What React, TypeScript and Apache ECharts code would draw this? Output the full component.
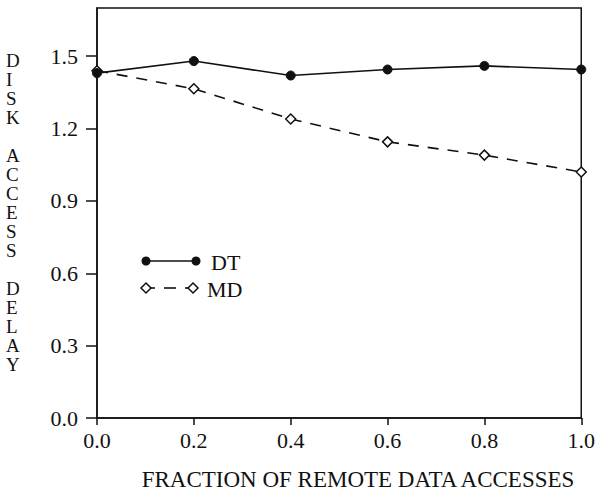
import React, { useEffect, useRef } from "react";
import * as echarts from "echarts";

const xValues = [0.0, 0.2, 0.4, 0.6, 0.8, 1.0];
const dtValues = [1.43, 1.48, 1.42, 1.445, 1.46, 1.445];
const mdValues = [1.44, 1.365, 1.24, 1.145, 1.09, 1.02];
const yTickValues = [0.0, 0.3, 0.6, 0.9, 1.2, 1.5];
const seriesNames = ["DT", "MD"];
const xAxisTitle = "FRACTION OF REMOTE DATA ACCESSES";
const yAxisTitle = "D\nI\nS\nK\n\nA\nC\nC\nE\nS\nS\n\nD\nE\nL\nA\nY";

const FONT = "'Liberation Serif', 'DejaVu Serif', serif";
const INK = "#111";

export default function App() {
  const ref = useRef<HTMLDivElement>(null);
  useEffect(() => {
    if (!ref.current) return;
    const chart = echarts.init(ref.current, null, { renderer: "svg" });
    const pair = (ys: number[]) => xValues.map((x, i) => [x, ys[i]]);
    chart.setOption({
      animation: false,
      backgroundColor: "#fff",
      grid: {
        left: 97,
        right: 14,
        top: 8,
        bottom: 79,
        show: true,
        borderColor: INK,
        borderWidth: 1.5,
        backgroundColor: "transparent",
      },
      xAxis: {
        type: "value",
        min: 0,
        max: 1,
        interval: 0.2,
        axisLine: { lineStyle: { color: INK, width: 1.5 } },
        axisTick: { show: true, inside: false, length: 7, lineStyle: { color: INK, width: 1.5 } },
        axisLabel: {
          fontFamily: FONT,
          fontSize: 22,
          color: INK,
          margin: 11,
          formatter: (v: number) => v.toFixed(1),
        },
        splitLine: { show: false },
      },
      yAxis: {
        type: "value",
        min: 0,
        max: 1.7,
        axisLine: { show: true, lineStyle: { color: INK, width: 1.5 } },
        axisTick: {
          show: true,
          length: 11,
          customValues: yTickValues,
          lineStyle: { color: INK, width: 1.5 },
        },
        axisLabel: {
          fontFamily: FONT,
          fontSize: 22,
          color: INK,
          margin: 19,
          customValues: yTickValues,
          formatter: (v: number) => v.toFixed(1),
        },
        splitLine: { show: false },
      },
      series: [
        {
          name: seriesNames[0],
          type: "line",
          data: pair(dtValues),
          symbol: "circle",
          symbolSize: 9,
          lineStyle: { color: INK, width: 1.6, type: "solid" },
          itemStyle: { color: INK, borderColor: INK },
          z: 3,
        },
        {
          name: seriesNames[1],
          type: "line",
          data: pair(mdValues),
          symbol: "diamond",
          symbolSize: 10,
          lineStyle: { color: INK, width: 1.6, type: [11, 9] },
          itemStyle: { color: "#fff", borderColor: INK, borderWidth: 1.5 },
          z: 2,
        },
      ],
      graphic: [
        {
          type: "text",
          left: 6,
          top: 51,
          style: {
            text: yAxisTitle,
            fontFamily: FONT,
            fontSize: 19,
            lineHeight: 19,
            fill: INK,
            align: "center",
            width: 18,
          },
        },
        {
          type: "text",
          x: 358,
          y: 479,
          style: {
            text: xAxisTitle,
            fontFamily: FONT,
            fontSize: 23,
            fill: INK,
            align: "center",
            verticalAlign: "middle",
          },
        },
        // legend: DT
        { type: "line", shape: { x1: 146, y1: 261, x2: 196, y2: 261 }, style: { stroke: INK, lineWidth: 1.6 } },
        { type: "circle", shape: { cx: 146, cy: 261, r: 4.5 }, style: { fill: INK } },
        { type: "circle", shape: { cx: 196, cy: 261, r: 4.5 }, style: { fill: INK } },
        {
          type: "text",
          x: 211,
          y: 262,
          style: { text: seriesNames[0], fontFamily: FONT, fontSize: 22, fill: INK, verticalAlign: "middle" },
        },
        // legend: MD
        { type: "line", shape: { x1: 150, y1: 288, x2: 155, y2: 288 }, style: { stroke: INK, lineWidth: 1.6 } },
        { type: "line", shape: { x1: 164, y1: 288, x2: 176, y2: 288 }, style: { stroke: INK, lineWidth: 1.6 } },
        { type: "line", shape: { x1: 185, y1: 288, x2: 188, y2: 288 }, style: { stroke: INK, lineWidth: 1.6 } },
        {
          type: "polygon",
          shape: { points: [[146, 283], [151, 288], [146, 293], [141, 288]] },
          style: { fill: "#fff", stroke: INK, lineWidth: 1.5 },
        },
        {
          type: "polygon",
          shape: { points: [[193, 283], [198, 288], [193, 293], [188, 288]] },
          style: { fill: "#fff", stroke: INK, lineWidth: 1.5 },
        },
        {
          type: "text",
          x: 207,
          y: 289,
          style: { text: seriesNames[1], fontFamily: FONT, fontSize: 22, fill: INK, verticalAlign: "middle" },
        },
      ],
    });
    return () => chart.dispose();
  }, []);
  return (
    <div
      ref={ref}
      style={{ position: "fixed", left: 0, top: 0, width: 598, height: 497, background: "#fff" }}
    />
  );
}
